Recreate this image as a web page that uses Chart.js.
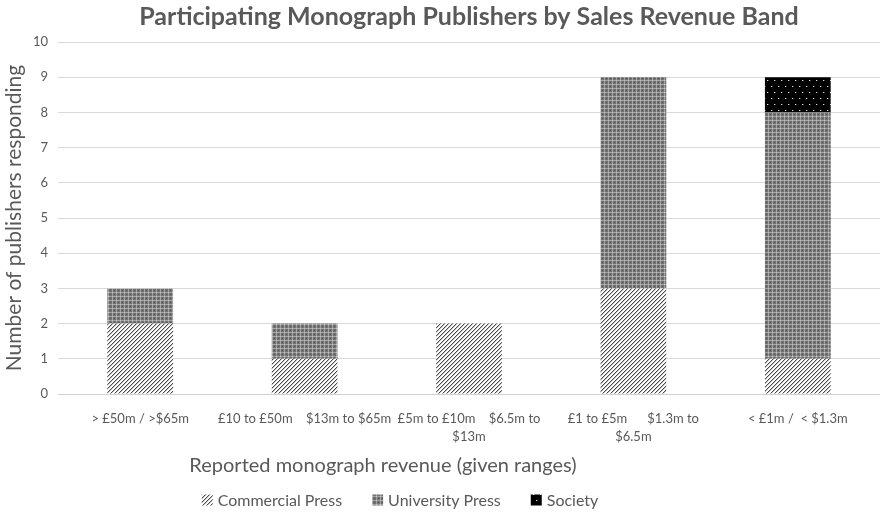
<!DOCTYPE html>
<html>
<head>
<meta charset="utf-8">
<script src="https://cdn.jsdelivr.net/npm/chart.js@4"></script>
<style>
  html, body { margin: 0; padding: 0; background: #fff; }
  #wrap { width: 880px; height: 514px; }
</style>
</head>
<body>
<div id="wrap"><canvas id="chart" width="880" height="514"></canvas></div>
<script>
// revenue bands (pound / dollar ranges, wrapped like the original)
const bands = [
  "> £50m / >$65m",
  "£10 to £50m    $13m to $65m",
  ["£5m to £10m    $6.5m to", "$13m"],
  ["£1 to £5m      $1.3m to", "$6.5m"],
  "< £1m /  < $1.3m",
];
const commercialPress = [2, 1, 2, 3, 1];
const universityPress = [1, 1, 0, 6, 7];
const society = [0, 0, 0, 0, 1];
const yTicks = [0, 1, 2, 3, 4, 5, 6, 7, 8, 9, 10];

const FONT = "Lato, 'Open Sans', sans-serif";
const GREY = "#595959";

// small tiled fills to mimic the hatched/grid/dotted Excel patterns
function makePattern(w, h, paint) {
  const c = document.createElement("canvas");
  c.width = w; c.height = h;
  const g = c.getContext("2d");
  paint(g);
  return document.getElementById("chart").getContext("2d").createPattern(c, "repeat");
}
const px = (g, x, y, col) => { g.fillStyle = col; g.fillRect(x, y, 1, 1); };

const hatchFill = makePattern(4, 4, (g) => {
  g.fillStyle = "#ffffff"; g.fillRect(0, 0, 4, 4);
  for (let i = 0; i < 4; i++) {
    px(g, i, 3 - i, "#4a4a4a");
    px(g, (i + 1) % 4, 3 - i, "#c4c4c4");
  }
});

const gridFill = makePattern(4, 4, (g) => {
  g.fillStyle = "#727272"; g.fillRect(0, 0, 4, 4);
  for (let i = 0; i < 4; i++) { px(g, i, 0, "#a0a0a0"); px(g, 0, i, "#a0a0a0"); }
  px(g, 0, 0, "#c8c8c8");
  px(g, 2, 2, "#555555");
});

const dotFill = makePattern(7, 12, (g) => {
  g.fillStyle = "#000000"; g.fillRect(0, 0, 7, 12);
  px(g, 1, 2, "#e0e0e0"); px(g, 4, 8, "#e0e0e0");
  px(g, 2, 2, "#444"); px(g, 5, 8, "#444");
});

// x-axis title and legend, placed like the Excel original
const extras = {
  id: "extras",
  afterDraw(chart) {
    const ctx = chart.ctx;
    ctx.save();
    ctx.fillStyle = GREY;
    ctx.textBaseline = "middle";
    ctx.textAlign = "center";
    ctx.font = "20px " + FONT;
    ctx.fillText("Reported monograph revenue (given ranges)", 383, 466);

    ctx.font = "16px " + FONT;
    ctx.textAlign = "left";
    const items = chart.data.datasets.map((d) => ({ label: d.label, fill: d.backgroundColor }));
    const box = 11, gapBox = 5, gapItem = 30;
    const total = items.reduce((s, it) => s + box + gapBox + ctx.measureText(it.label).width, 0) + gapItem * (items.length - 1);
    let x = 400 - total / 2;
    const y = 500;
    items.forEach((it) => {
      ctx.fillStyle = it.fill;
      ctx.fillRect(x, y - box / 2, box, box);
      x += box + gapBox;
      ctx.fillStyle = GREY;
      ctx.fillText(it.label, x, y + 1);
      x += ctx.measureText(it.label).width + gapItem;
    });
    ctx.restore();
  },
};

new Chart(document.getElementById("chart"), {
  type: "bar",
  data: {
    labels: bands,
    datasets: [
      { label: "Commercial Press", data: commercialPress, backgroundColor: hatchFill },
      { label: "University Press", data: universityPress, backgroundColor: gridFill },
      { label: "Society", data: society, backgroundColor: dotFill },
    ],
  },
  options: {
    responsive: false,
    animation: false,
    events: [],
    layout: { padding: { left: 0, right: 0, top: 0, bottom: 0 } },
    datasets: { bar: { barPercentage: 0.4, categoryPercentage: 1.0, borderWidth: 0 } },
    plugins: {
      legend: { display: false },
      tooltip: { enabled: false },
      title: {
        display: true,
        fullSize: false,
        text: "Participating Monograph Publishers by Sales Revenue Band",
        color: GREY,
        font: { family: FONT, size: 25, weight: "bold", lineHeight: 1.0 },
        padding: { top: 4, bottom: 13 },
      },
    },
    scales: {
      x: {
        stacked: true,
        grid: { display: false },
        border: { display: true, color: "#d0d0d0" },
        ticks: {
          color: GREY,
          font: { family: FONT, size: 13, lineHeight: 1.35 },
          maxRotation: 0,
          autoSkip: false,
          padding: 8,
        },
        afterFit: (s) => { s.height = 120; },
      },
      y: {
        stacked: true,
        min: 0,
        max: 10,
        afterBuildTicks: (s) => { s.ticks = yTicks.map((v) => ({ value: v })); },
        grid: { color: "#d9d9d9", drawTicks: false },
        border: { display: false },
        ticks: { color: GREY, font: { family: FONT, size: 13 }, padding: 10 },
        title: {
          display: true,
          text: "Number of publishers responding",
          color: GREY,
          font: { family: FONT, size: 21 },
          padding: { top: 2, bottom: 0 },
        },
        afterFit: (s) => { s.width = 58; },
      },
    },
  },
  plugins: [extras],
});
</script>
</body>
</html>
